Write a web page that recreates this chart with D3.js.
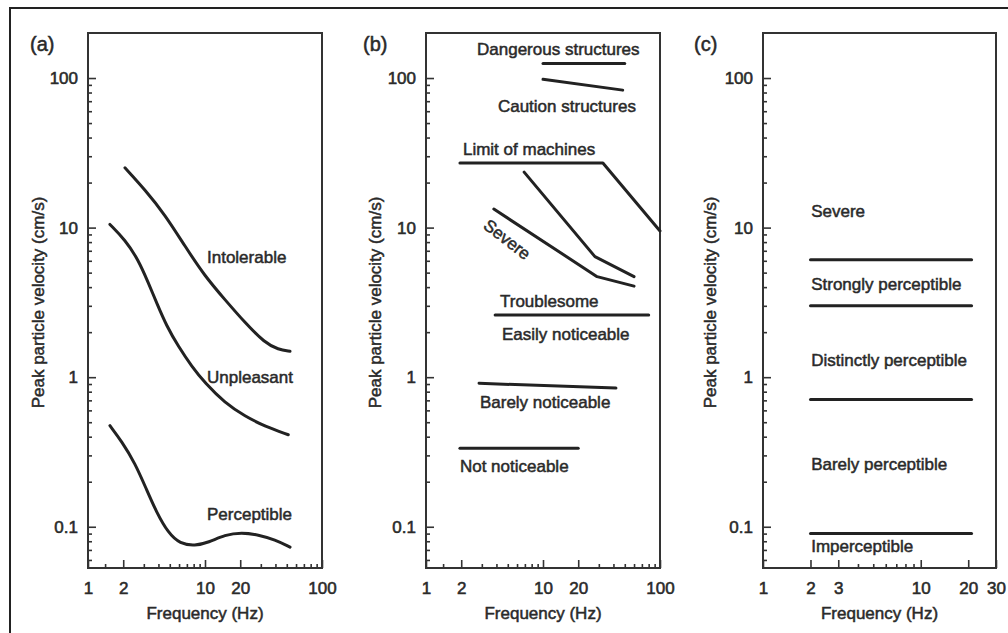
<!DOCTYPE html>
<head>
<meta charset="utf-8">
<script src="https://d3js.org/d3.v7.min.js"></script>
<style>
body { margin: 0; background: #fff; }
text { font-family: "Liberation Sans", Arial, sans-serif; font-size: 17px; fill: #2a2a2a; }
text.lbl { stroke: #2a2a2a; stroke-width: 0.5px; }
text.panelName { font-size: 20px; }
.tick text { font-size: 17px; font-family: "Liberation Sans", Arial, sans-serif; fill: #2a2a2a; stroke: #2a2a2a; stroke-width: 0.55px; }
.tick line { stroke: #333; stroke-width: 1.6px; }
path.domain { display: none; }
.curve { fill: none; stroke: #222; stroke-width: 3px; stroke-linecap: round; stroke-linejoin: round; }
</style>
</head>
<body>
<script>
const width = 1008, height = 633;

// velocity axis (cm/s), shared by all three panels
const velDomain = [0.053, 200];
const velMajor = [0.1, 1, 10, 100];
const velMinor = [0.06, 0.07, 0.08, 0.09, 0.2, 0.3, 0.4, 0.5, 0.6, 0.7, 0.8, 0.9,
                  2, 3, 4, 5, 6, 7, 8, 9, 20, 30, 40, 50, 60, 70, 80, 90];

// frequency axes (Hz)
const freqMajorAB = [1, 2, 10, 20, 100];
const freqMinorAB = [1.4, 3, 4, 5, 6, 7, 8, 9, 30, 40, 50, 60, 70, 80, 90];
const freqMajorC = [1, 2, 3, 10, 20, 30];
const freqMinorC = [4, 5, 6, 7, 8, 9];

// panel (a) curves: [Hz, cm/s]
const intolerable = [[2.07, 25.1], [3.07, 17.9], [4.55, 12.2], [6.75, 7.5], [10, 4.72],
  [14.8, 3.3], [22, 2.31], [32.6, 1.69], [42.3, 1.53], [53.3, 1.49]];
const unpleasant = [[1.54, 10.5], [2.07, 8.3], [2.69, 6.1], [3.28, 4.27], [3.87, 3.13],
  [4.71, 2.19], [5.91, 1.61], [7.7, 1.18], [10, 0.914], [14.8, 0.672], [22, 0.547],
  [32.6, 0.469], [51.5, 0.412]];
const perceptible = [[1.54, 0.474], [1.94, 0.372], [2.52, 0.267], [3.17, 0.177], [3.87, 0.124],
  [4.86, 0.0908], [6.11, 0.0769], [8.22, 0.0746], [10.7, 0.0785], [14.8, 0.0884],
  [20.6, 0.0916], [28.5, 0.0884], [39.7, 0.0818], [53.3, 0.0731]];
const labelsA = [["Intolerable", 10.4, 6.3], ["Unpleasant", 10.4, 1.0], ["Perceptible", 10.4, 0.12]];

// panel (b) polylines
const dangerous = [[10, 125], [50, 125]];
const caution = [[10, 98], [48, 83]];
const machines = [[1.95, 27], [32.5, 27], [100, 9.5]];
const severeUpper = [[6.9, 23.5], [27.8, 6.4], [60, 4.7]];
const severeLower = [[3.8, 13.3], [29, 4.7], [60, 4.06]];
const troublesome = [[3.9, 2.6], [80, 2.6]];
const barely = [[2.84, 0.91], [42, 0.845]];
const notNoticeable = [[1.95, 0.335], [20, 0.335]];
const labelsB = [["Dangerous structures", 2.73, 155], ["Caution structures", 4.12, 64.4],
  ["Limit of machines", 2.07, 33.2], ["Troublesome", 4.29, 3.2], ["Easily noticeable", 4.46, 1.92],
  ["Barely noticeable", 2.89, 0.675], ["Not noticeable", 1.95, 0.252]];
const severeLabelB = ["Severe", 4.92, 8.3, 38];

// panel (c) thresholds
const freqRangeC = [2, 21];
const thresholdsC = [6.1, 3.0, 0.71, 0.09];
const labelsC = [["Severe", 2.02, 12.8], ["Strongly perceptible", 2.02, 4.16],
  ["Distinctly perceptible", 2.02, 1.29], ["Barely perceptible", 2.02, 0.26],
  ["Imperceptible", 2.02, 0.0735]];

const svg = d3.select("body").append("svg")
  .attr("width", width)
  .attr("height", height);

// outer frame (runs off the right and bottom edges)
svg.append("rect")
  .attr("x", 10).attr("y", 8)
  .attr("width", 1100).attr("height", 700)
  .attr("fill", "none").attr("stroke", "#222").attr("stroke-width", 2);

const plotTop = 33, plotBottom = 568;
const y = d3.scaleLog().domain(velDomain).range([plotBottom, plotTop]);
const fmt = d => d3.format("~g")(d);

function panel(name, left, right, fDomain, fMajor, fMinor, titleX, yTitleX) {
  const x = d3.scaleLog().domain(fDomain).range([left, right]);
  const g = svg.append("g");

  g.append("g").attr("transform", `translate(${left},0)`)
    .call(d3.axisLeft(y).tickValues(velMinor).tickSize(-4).tickFormat(""));
  g.append("g").attr("transform", `translate(${left},0)`)
    .call(d3.axisLeft(y).tickValues(velMajor).tickSize(-8).tickPadding(10).tickFormat(fmt));

  g.append("g").attr("transform", `translate(0,${plotBottom})`)
    .call(d3.axisBottom(x).tickValues(fMinor).tickSize(-4).tickFormat(""));
  g.append("g").attr("transform", `translate(0,${plotBottom})`)
    .call(d3.axisBottom(x).tickValues(fMajor).tickSize(-8).tickPadding(14).tickFormat(fmt));

  g.append("rect")
    .attr("x", left).attr("y", plotTop)
    .attr("width", right - left).attr("height", plotBottom - plotTop)
    .attr("fill", "none").attr("stroke", "#333").attr("stroke-width", 2);

  g.append("text").attr("class", "lbl panelName")
    .attr("x", titleX).attr("y", 51)
    .text(name);

  g.append("text").attr("class", "lbl")
    .attr("transform", `translate(${yTitleX},${(plotTop + plotBottom) / 2 + 2}) rotate(-90)`)
    .attr("text-anchor", "middle")
    .attr("dominant-baseline", "central")
    .text("Peak particle velocity (cm/s)");

  g.append("text").attr("class", "lbl")
    .attr("x", (left + right) / 2).attr("y", 619)
    .attr("text-anchor", "middle")
    .text("Frequency (Hz)");

  return { g, x };
}

function addLabels(p, labels) {
  p.g.selectAll(null)
    .data(labels)
    .join("text")
    .attr("class", "lbl")
    .attr("x", d => p.x(d[1]))
    .attr("y", d => y(d[2]))
    .attr("dominant-baseline", "central")
    .text(d => d[0]);
}

// (a)
const pa = panel("(a)", 88, 322, [1, 100], freqMajorAB, freqMinorAB, 30, 38);
const smooth = d3.line().x(d => pa.x(d[0])).y(d => y(d[1])).curve(d3.curveBasis);
pa.g.selectAll("path.curve")
  .data([intolerable, unpleasant, perceptible])
  .join("path")
  .attr("class", "curve")
  .attr("d", smooth);
addLabels(pa, labelsA);

// (b)
const pb = panel("(b)", 426, 660, [1, 100], freqMajorAB, freqMinorAB, 363, 375);
const lineB = d3.line().x(d => pb.x(d[0])).y(d => y(d[1]));
pb.g.selectAll("path.curve")
  .data([dangerous, caution, machines, severeUpper, severeLower, troublesome, barely, notNoticeable])
  .join("path")
  .attr("class", "curve")
  .attr("d", lineB);
addLabels(pb, labelsB);
pb.g.append("text").attr("class", "lbl")
  .attr("transform", `translate(${pb.x(severeLabelB[1])},${y(severeLabelB[2])}) rotate(${severeLabelB[3]})`)
  .attr("text-anchor", "middle")
  .attr("dominant-baseline", "central")
  .text(severeLabelB[0]);

// (c)
const pc = panel("(c)", 763, 996, [1, 30], freqMajorC, freqMinorC, 694, 710);
pc.g.selectAll("path.curve")
  .data(thresholdsC)
  .join("path")
  .attr("class", "curve")
  .attr("d", v => d3.line()([[pc.x(freqRangeC[0]), y(v)], [pc.x(freqRangeC[1]), y(v)]]));
addLabels(pc, labelsC);
</script>
</body>
